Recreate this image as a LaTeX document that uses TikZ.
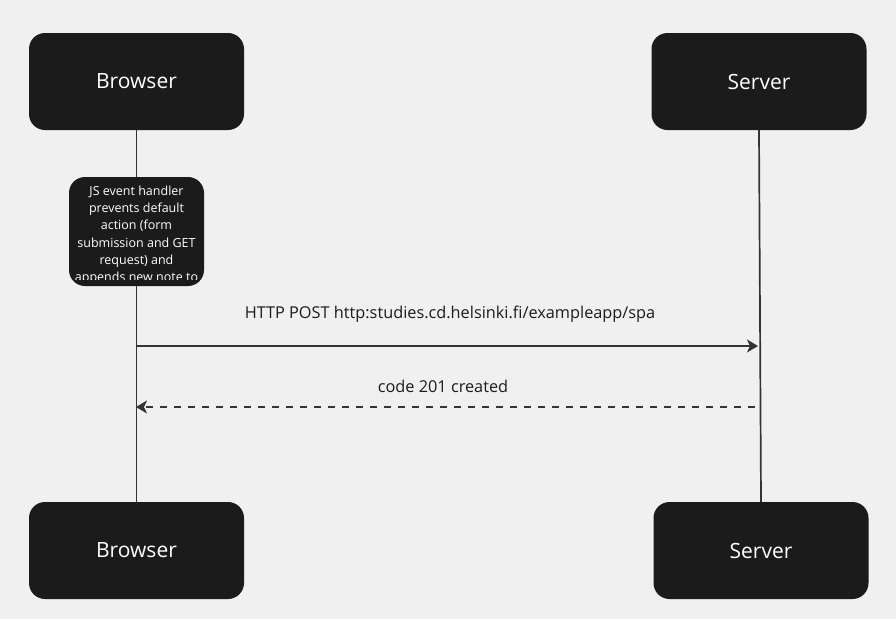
\documentclass[tikz,border=0pt]{standalone}
\usepackage{fontspec}
\setmainfont{Open Sans}
\usepackage{xcolor}
\usetikzlibrary{arrows.meta}
\definecolor{bgcol}{HTML}{F0F0F0}
\definecolor{boxcol}{HTML}{1B1B1B}
\definecolor{linecol}{HTML}{333333}

\begin{document}
\begin{tikzpicture}[x=1pt, y=-1pt,
    actor/.style = {fill=boxcol, rounded corners=16pt, minimum width=215pt, minimum height=97pt, text=white, font=\fontsize{21}{25}\selectfont},
    notebox/.style = {fill=boxcol, rounded corners=16pt, minimum width=135pt, minimum height=109pt},
    msg/.style = {draw=linecol, line width=1.8pt, -{Stealth[length=11pt, width=13pt, inset=3pt]}},
    msglabel/.style = {text=boxcol, font=\fontsize{16.3}{19}\selectfont}]
    \fill[bgcol] (0,0) rectangle (896,619);
    \useasboundingbox (0,0) rectangle (896,619);

    % lifelines
    \node[actor] (browsertop) at (136.5,81.5) {Browser};
    \node[actor] (servertop) at (759,81.5) {Server};
    \node[actor] (browserbot) at (136.5,550.5) {Browser};
    \node[actor] (serverbot) at (761,550.5) {Server};
    \draw[linecol, line width=1.7pt] (browsertop.south) -- (browserbot.north);
    \draw[linecol, line width=1.7pt] (servertop.south) -- (serverbot.north);

    % note on the browser line
    \node[notebox] (note) at (136.5,231.5) {};
    \begin{scope}
        \clip (note.north west) rectangle (note.east |- 0,279.5);
        \node[text=white, align=center, anchor=north, inner sep=0pt, font=\fontsize{12.5}{17.1}\selectfont] (notetext) at (136.5,186) {JS event handler\\prevents default\\action (form\\submission and GET\\request) and\\appends new note to};
    \end{scope}

    % messages
    \coordinate (postL) at (137,346);
    \coordinate (postR) at (758,346);
    \coordinate (retR) at (755,407);
    \coordinate (retL) at (136,407);
    \draw[msg] (postL) -- (postR);
    \draw[msg, dash pattern=on 7.3pt off 6.7pt] (retR) -- (retL);
    \node[msglabel] (postlabel) at (450,314) {HTTP POST http:studies.cd.helsinki.fi/exampleapp/spa};
    \node[msglabel] (retlabel) at (443,386) {code 201 created};
\end{tikzpicture}
\end{document}
